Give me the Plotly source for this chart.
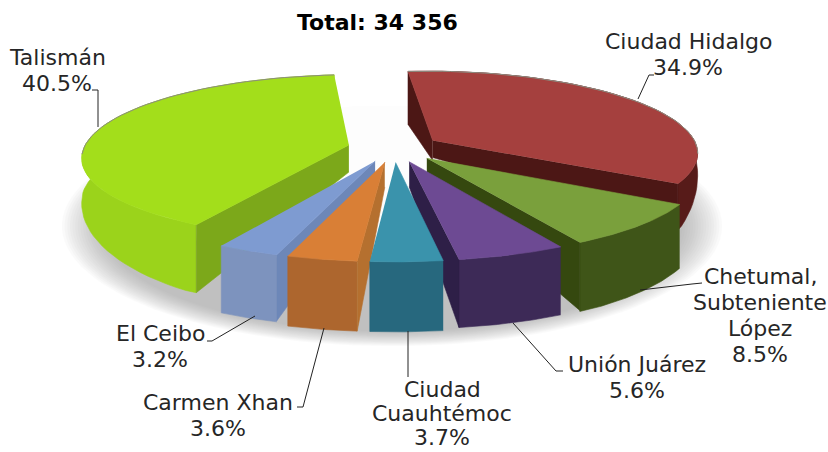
import numpy as np
import plotly.graph_objects as go

# ---- data ----
ports = ["Ciudad Hidalgo", "Chetumal, Subteniente López", "Unión Juárez",
         "Ciudad Cuauhtémoc", "Carmen Xhan", "El Ceibo", "Talismán"]
shares = [34.9, 8.5, 5.6, 3.7, 3.6, 3.2, 40.5]
title_text = "Total: 34 356"
label_lines = [["Ciudad Hidalgo"], ["Chetumal,", "Subteniente", "López"], ["Unión Juárez"],
               ["Ciudad", "Cuauhtémoc"], ["Carmen Xhan"], ["El Ceibo"], ["Talismán"]]

# ---- styling ----
top_colors = ["#A5403E", "#7AA03C", "#6D4A93", "#3A93AC", "#D97F36", "#7E9BD1", "#A3DE1B"]
outer_colors = ["#571B19", "#3F5518", "#3D2A57", "#27687E", "#AD662E", "#7D93BE", "#9BD31B"]
side_colors = ["#4C1715", "#35480F", "#2E1F47", "#27687E", "#B5702F", "#6D87B8", "#7CA81A"]
# wall heights (apex, rim); None = wall not shown
start_walls = [(20, 53), None, None, None, (25, 70), (25, 66), (27, 68)]
end_walls = [(17, 45), (22, 68), (25, 68), None, None, None, None]
outer_knots = [([100, 145, 182, 230], [0, 15, 46, 60]),
               ([180, 240], [60, 69]), ([200, 330], [68, 68]), ([200, 330], [70, 70]),
               ([200, 330], [70, 70]), ([200, 330], [67, 67]), ([70, 150, 222, 330], [40, 42, 68, 68])]
label_pos = [(688, 41), (760, 276), (637, 364), (442, 389), (218, 402), (160, 333), (57, 57)]
line_steps = [26, 26, 26, 24, 26, 26, 26]
leaders = [[(654, 75), (649, 75), (638, 99)],
           [(702, 283), (692, 284), (640, 290)],
           [(563, 371), (556, 371), (513, 323)],
           [(408, 377), (408, 331)],
           [(297, 407), (303, 407), (324, 328)],
           [(207, 341), (212, 341), (255, 316)],
           [(92, 90), (98, 90), (98, 127)]]
draw_order = [0, 6, 1, 5, 2, 4, 3]

CX, CY, A, B, K, EXPLODE, ROT = 394, 148, 265, 81, 0.14, 0.175, -5
FONT = "DejaVu Sans"


def project(u, v):
    s = 1 / (1 + K * np.asarray(v, float))
    return CX + A * np.asarray(u, float) * s, CY - B * np.asarray(v, float) * s


edges = np.concatenate([[0], np.cumsum(shares)]) / np.sum(shares) * 360 + ROT
fig = go.Figure()


def poly(x, y, color, name, opacity=1.0, line=None):
    fig.add_trace(go.Scatter(
        x=list(x), y=list(y), mode="lines", fill="toself", fillcolor=color, opacity=opacity,
        line=dict(color=line or color, width=0.6), hoverinfo="skip", showlegend=False, name=name))


# soft floor shadow: grey rings faded out to white towards the centre
t = np.linspace(0, 2 * np.pi, 120)
for f in np.linspace(1.0, 0.88, 16):
    poly(392 + 330 * f * np.cos(t), 226 + 120 * f * np.sin(t), "#7A7A7A", "shadow", opacity=0.032,
         line="rgba(0,0,0,0)")
for f in np.linspace(1.0, 0.86, 10):
    poly(392 + 300 * f * np.cos(t), 165 + 100 * f * np.sin(t), "#FFFFFF", "shadow", opacity=0.35,
         line="rgba(0,0,0,0)")

for i in draw_order:
    a0, a1 = np.radians(edges[i]), np.radians(edges[i + 1])
    mid = (a0 + a1) / 2
    ou, ov = EXPLODE * np.sin(mid), EXPLODE * np.cos(mid)
    th = np.linspace(a0, a1, 60)
    ru, rv = ou + np.sin(th), ov + np.cos(th)
    rx, ry = project(ru, rv)
    ax, ay = project(ou, ov)
    # outer wall
    h = np.interp(ry, *outer_knots[i])
    poly(np.r_[rx, rx[::-1]], np.r_[ry, (ry + h)[::-1]], outer_colors[i], ports[i])
    # radial walls
    for wall, idx in ((start_walls[i], 0), (end_walls[i], -1)):
        if wall:
            poly([ax, rx[idx], rx[idx], ax], [ay, ry[idx], ry[idx] + wall[1], ay + wall[0]],
                 side_colors[i], ports[i])
    # top face
    poly(np.r_[ax, rx], np.r_[ay, ry], top_colors[i], ports[i])
    # thin grey rim highlight on the far edge
    back = rv > -0.1
    if back.any():
        fig.add_trace(go.Scatter(x=rx[back], y=ry[back], mode="lines",
                                 line=dict(color="#8C8C80", width=1), hoverinfo="skip",
                                 showlegend=False))

for pts in leaders:
    fig.add_trace(go.Scatter(x=[p[0] for p in pts], y=[p[1] for p in pts], mode="lines",
                             line=dict(color="#222222", width=1), hoverinfo="skip",
                             showlegend=False))

annotations = [dict(x=377, y=22, text=f"<b>{title_text}</b>", showarrow=False,
                    font=dict(family=FONT, size=22, color="#000000"))]
for lines, share, (lx, ly), step in zip(label_lines, shares, label_pos, line_steps):
    for n, txt in enumerate(lines + [f"{share}%"]):
        annotations.append(dict(x=lx, y=ly + n * step, text=txt, showarrow=False,
                                font=dict(family=FONT, size=22, color="#262626"), align="center"))

fig.update_layout(
    width=828, height=452, margin=dict(l=0, r=0, t=0, b=0),
    paper_bgcolor="white", plot_bgcolor="white",
    xaxis=dict(range=[0, 828], visible=False, fixedrange=True),
    yaxis=dict(range=[452, 0], visible=False, fixedrange=True),
    annotations=annotations, showlegend=False)
fig.write_html("out.html", config={"displayModeBar": False},
               post_script="document.body.style.margin='0';document.body.style.overflow='hidden';")
